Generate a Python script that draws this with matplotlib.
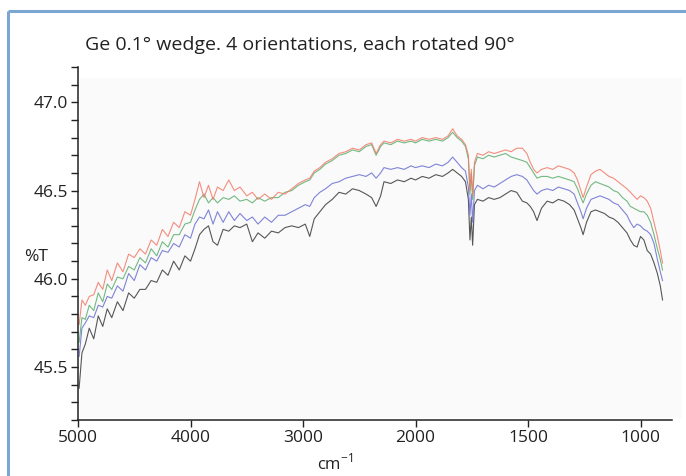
"""Ge wedge transmission spectra, four orientations."""

import numpy as np
import matplotlib
matplotlib.use("Agg")
from matplotlib import pyplot as plt
from matplotlib.lines import Line2D
from matplotlib.patches import Rectangle
from matplotlib.ticker import FixedLocator, MultipleLocator, FormatStrFormatter

plt.rcParams["font.family"] = ["Open Sans", "DejaVu Sans"]
plt.rcParams["mathtext.fontset"] = "custom"
plt.rcParams["mathtext.rm"] = "Open Sans"

TITLE = "Ge 0.1° wedge. 4 orientations, each rotated 90°"

wavenumber = [
	4990, 4965, 4935, 4900, 4860, 4820, 4780, 4740, 4700, 4650,
	4600, 4550, 4500, 4450, 4400, 4350, 4300, 4250, 4200, 4150,
	4100, 4050, 4000, 3960, 3920, 3880, 3840, 3800, 3760, 3710,
	3660, 3610, 3560, 3500, 3450, 3400, 3340, 3280, 3220, 3160,
	3100, 3040, 2980, 2940, 2900, 2850, 2800, 2740, 2680, 2620,
	2560, 2500, 2440, 2390, 2350, 2310, 2280, 2220, 2160, 2100,
	2040, 2000, 1970, 1940, 1910, 1880, 1855, 1835, 1815, 1795,
	1778, 1765, 1758, 1752, 1746, 1738, 1725, 1700, 1675, 1650,
	1625, 1600, 1575, 1550, 1525, 1505, 1490, 1475, 1460, 1440,
	1415, 1390, 1365, 1340, 1315, 1295, 1280, 1265, 1255, 1240,
	1220, 1200, 1180, 1160, 1140, 1120, 1100, 1080, 1060, 1045,
	1030, 1015, 1000, 985, 970, 955, 940, 925, 912, 902,
]

red = [
	45.74, 45.88, 45.85, 45.90, 45.91, 45.98, 45.94, 46.05, 45.99, 46.09,
	46.04, 46.14, 46.12, 46.17, 46.14, 46.22, 46.19, 46.28, 46.24, 46.32,
	46.29, 46.38, 46.36, 46.45, 46.55, 46.46, 46.53, 46.45, 46.52, 46.50,
	46.56, 46.50, 46.52, 46.47, 46.49, 46.45, 46.48, 46.45, 46.49, 46.48,
	46.51, 46.54, 46.56, 46.57, 46.61, 46.63, 46.66, 46.68, 46.71, 46.72,
	46.74, 46.73, 46.76, 46.77, 46.71, 46.76, 46.78, 46.77, 46.79, 46.78,
	46.79, 46.78, 46.80, 46.79, 46.80, 46.79, 46.81, 46.85, 46.81, 46.79,
	46.76, 46.70, 46.50, 46.62, 46.47, 46.66, 46.71, 46.70, 46.72, 46.71,
	46.72, 46.73, 46.72, 46.74, 46.74, 46.71, 46.66, 46.62, 46.60, 46.62,
	46.63, 46.62, 46.64, 46.63, 46.62, 46.60, 46.56, 46.50, 46.46, 46.52,
	46.59, 46.61, 46.62, 46.60, 46.58, 46.57, 46.55, 46.53, 46.51, 46.49,
	46.47, 46.45, 46.47, 46.46, 46.44, 46.40, 46.32, 46.24, 46.16, 46.09,
]

green = [
	45.64, 45.78, 45.77, 45.85, 45.82, 45.92, 45.87, 45.97, 45.94, 46.01,
	46.00, 46.07, 46.05, 46.12, 46.09, 46.17, 46.13, 46.21, 46.18, 46.25,
	46.25, 46.31, 46.32, 46.39, 46.45, 46.48, 46.43, 46.46, 46.43, 46.46,
	46.45, 46.47, 46.44, 46.45, 46.43, 46.46, 46.44, 46.46, 46.46, 46.49,
	46.50, 46.53, 46.55, 46.56, 46.60, 46.62, 46.65, 46.67, 46.70, 46.71,
	46.73, 46.72, 46.75, 46.76, 46.70, 46.75, 46.77, 46.76, 46.78, 46.77,
	46.78, 46.77, 46.79, 46.78, 46.79, 46.78, 46.80, 46.83, 46.80, 46.78,
	46.75, 46.68, 46.48, 46.60, 46.45, 46.64, 46.69, 46.68, 46.70, 46.69,
	46.70, 46.71, 46.69, 46.68, 46.67, 46.66, 46.63, 46.60, 46.57, 46.58,
	46.58, 46.57, 46.58, 46.57, 46.56, 46.55, 46.51, 46.46, 46.43, 46.48,
	46.53, 46.55, 46.54, 46.53, 46.52, 46.50, 46.49, 46.46, 46.44, 46.41,
	46.40, 46.39, 46.38, 46.38, 46.36, 46.32, 46.25, 46.17, 46.11, 46.05,
]

blue = [
	45.56, 45.72, 45.75, 45.79, 45.78, 45.85, 45.84, 45.90, 45.89, 45.96,
	45.93, 46.03, 45.99, 46.08, 46.05, 46.12, 46.10, 46.16, 46.15, 46.20,
	46.18, 46.25, 46.23, 46.31, 46.35, 46.34, 46.39, 46.31, 46.38, 46.32,
	46.38, 46.33, 46.37, 46.33, 46.35, 46.31, 46.35, 46.32, 46.36, 46.36,
	46.38, 46.40, 46.42, 46.41, 46.46, 46.49, 46.51, 46.54, 46.55, 46.57,
	46.58, 46.59, 46.58, 46.60, 46.57, 46.60, 46.63, 46.62, 46.63, 46.62,
	46.64, 46.63, 46.64, 46.63, 46.65, 46.64, 46.66, 46.69, 46.66, 46.63,
	46.61, 46.52, 46.36, 46.48, 46.32, 46.50, 46.53, 46.51, 46.53, 46.52,
	46.54, 46.56, 46.58, 46.59, 46.58, 46.56, 46.53, 46.50, 46.48, 46.50,
	46.51, 46.50, 46.52, 46.51, 46.50, 46.48, 46.43, 46.38, 46.34, 46.40,
	46.45, 46.46, 46.47, 46.46, 46.45, 46.43, 46.42, 46.39, 46.36, 46.32,
	46.29, 46.31, 46.30, 46.28, 46.27, 46.25, 46.20, 46.11, 46.04, 45.99,
]

black = [
	45.38, 45.58, 45.63, 45.72, 45.66, 45.79, 45.73, 45.83, 45.78, 45.87,
	45.82, 45.92, 45.89, 45.94, 45.94, 45.99, 45.98, 46.05, 46.02, 46.10,
	46.05, 46.13, 46.10, 46.17, 46.25, 46.28, 46.30, 46.21, 46.19, 46.28,
	46.27, 46.30, 46.29, 46.31, 46.21, 46.26, 46.23, 46.27, 46.26, 46.29,
	46.30, 46.29, 46.31, 46.24, 46.34, 46.38, 46.42, 46.45, 46.49, 46.48,
	46.51, 46.50, 46.48, 46.46, 46.41, 46.47, 46.55, 46.54, 46.56, 46.55,
	46.57, 46.56, 46.58, 46.57, 46.59, 46.58, 46.60, 46.62, 46.60, 46.58,
	46.55, 46.45, 46.22, 46.35, 46.19, 46.42, 46.45, 46.44, 46.46, 46.45,
	46.46, 46.48, 46.50, 46.49, 46.44, 46.43, 46.41, 46.38, 46.33, 46.40,
	46.44, 46.43, 46.45, 46.44, 46.42, 46.39, 46.34, 46.29, 46.25, 46.32,
	46.38, 46.39, 46.38, 46.37, 46.35, 46.34, 46.32, 46.29, 46.26, 46.22,
	46.19, 46.18, 46.24, 46.22, 46.16, 46.14, 46.09, 46.03, 45.96, 45.88,
]

series = [
	(black, "#3a3a3a"),
	(blue, "#6a6fd0"),
	(green, "#5aae6c"),
	(red, "#f27a68"),
]

x_ticks = [5000, 4000, 3000, 2000, 1500, 1000]


def _forward(x):
	# the spectrometer axis doubles its scale below 2000 cm-1
	x = np.asarray(x, dtype=float)
	return np.where(x >= 2000, x, 2 * x - 2000)


def _inverse(u):
	u = np.asarray(u, dtype=float)
	return np.where(u >= 2000, u, (u + 2000) / 2)


fig = plt.figure(figsize=(6.86, 4.76), dpi=100)
fig.patch.set_facecolor("white")

# faint panel behind the traces
fig.patches.append(Rectangle((80 / 686, 58 / 476), 602 / 686, 340 / 476,
	transform=fig.transFigure, facecolor="#fafafa", edgecolor="none", zorder=-5))

# blue frame round the figure (left and top edges)
frame_color = "#7ba6d2"
fig.add_artist(Line2D([8 / 686, 8 / 686], [0, 1 - 11 / 476], transform=fig.transFigure,
	color=frame_color, linewidth=2.2, solid_capstyle="butt"))
fig.add_artist(Line2D([8 / 686, 1], [1 - 11 / 476, 1 - 11 / 476], transform=fig.transFigure,
	color=frame_color, linewidth=2.2, solid_capstyle="butt"))

ax = fig.add_axes([78 / 686, 56 / 476, 594 / 686, 353 / 476])
ax.set_facecolor("none")
ax.set_zorder(2)

for values, color in series:
	ax.plot(wavenumber, values, color=color, linewidth=0.8, alpha=0.85)

ax.set_xscale("function", functions=(_forward, _inverse))
ax.set_xlim(5000, 860)
ax.set_ylim(45.2, 47.2)

ax.xaxis.set_major_locator(FixedLocator(x_ticks))
ax.xaxis.set_minor_locator(FixedLocator([]))
ax.xaxis.set_major_formatter(FormatStrFormatter("%d"))
ax.yaxis.set_major_locator(FixedLocator([45.5, 46.0, 46.5, 47.0]))
ax.yaxis.set_minor_locator(MultipleLocator(0.1))
ax.yaxis.set_major_formatter(FormatStrFormatter("%.1f"))

for side in ("top", "right"):
	ax.spines[side].set_visible(False)
for side in ("left", "bottom"):
	ax.spines[side].set_linewidth(1.1)
	ax.spines[side].set_color("#222222")

ax.tick_params(axis="both", which="both", direction="out", length=5, width=1.0,
	color="#222222", labelsize=12.5, labelcolor="#222222", pad=2)

fig.text(300 / 686, 1 - 45 / 476, TITLE, ha="center", va="center", fontsize=14, color="#222222")
fig.text(36 / 686, 1 - 257 / 476, "%T", ha="center", va="center", fontsize=12.5, color="#222222")
fig.text(335 / 686, 1 - 463 / 476, r"cm$^{\mathregular{-1}}$", ha="center", va="center",
	fontsize=12, color="#222222")

fig.savefig("out.png", dpi=100, facecolor=fig.get_facecolor())
